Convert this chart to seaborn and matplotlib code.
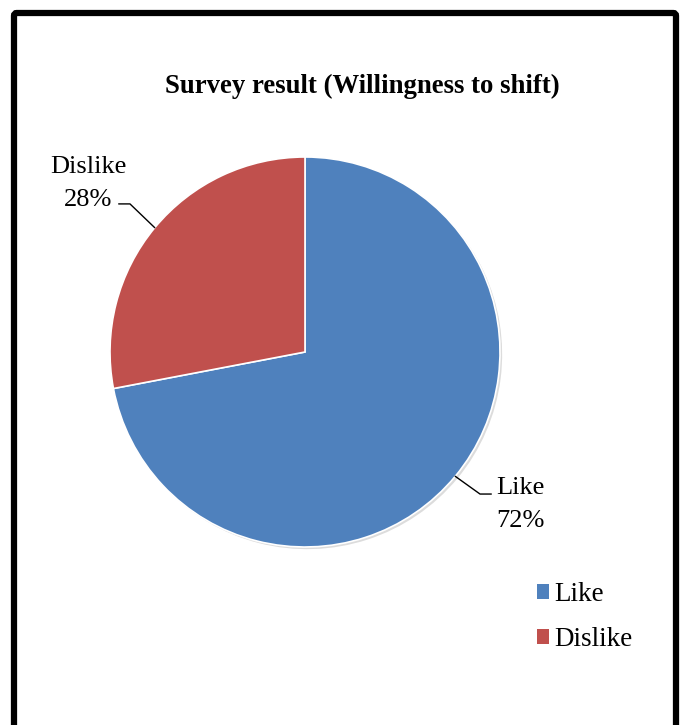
import matplotlib
matplotlib.use('Agg')
import matplotlib.pyplot as plt
from matplotlib.patches import Patch, FancyBboxPatch
import seaborn as sns
import numpy as np

sns.set_theme(style='white')
plt.rcParams['font.family'] = ['Liberation Serif', 'DejaVu Serif']
plt.rcParams['text.color'] = 'black'

# data
categories = ['Like', 'Dislike']
shares = [72, 28]
colors = sns.color_palette(['#4F81BD', '#C0504D'])

W, H = 683, 725
fig = plt.figure(figsize=(W / 100, H / 100), dpi=100)
fig.patch.set_facecolor('white')

# black frame around the chart (open at the bottom)
frame = FancyBboxPatch((14 / W, -0.05), (676 - 14) / W, (725 - 13) / H + 0.05,
                       boxstyle='round,pad=0,rounding_size=0.004',
                       transform=fig.transFigure, facecolor='none',
                       edgecolor='black', linewidth=4.5, zorder=10)
fig.patches.append(frame)

# pie axes: centre (305, 352) px, radius 195 px
cx, cy, r = 305, 352, 195
ax = fig.add_axes([(cx - r) / W, (H - cy - r) / H, 2 * r / W, 2 * r / H])
wedges, _ = ax.pie(shares, colors=colors, startangle=90, counterclock=False,
                   wedgeprops=dict(edgecolor='white', linewidth=1.2),
                   shadow=dict(ox=0.008, oy=-0.008, facecolor='0.55',
                               edgecolor='none', alpha=0.3))
ax.set_xlim(-1, 1)
ax.set_ylim(-1, 1)
ax.set_aspect('equal')
ax.axis('off')

fig.text(362 / W, 1 - 86 / H, 'Survey result (Willingness to shift)',
         ha='center', va='center', fontsize=19.3, fontweight='bold')

# data labels with leader lines
for w, cat, val in zip(wedges, categories, shares):
    ang = np.deg2rad((w.theta1 + w.theta2) / 2)
    ex, ey = np.cos(ang), np.sin(ang)
    side = np.sign(ex)
    elbow = (ex + side * 0.127, ey + (0.122 if ey > 0 else -0.091))
    end = (elbow[0] + side * 0.058, elbow[1])
    ax.plot([ex, elbow[0], end[0]], [ey, elbow[1], end[1]], color='black',
            linewidth=1.0, clip_on=False)
    if side < 0:
        ax.text(end[0] - 0.155, end[1] + 0.105, f'{cat}\n{val}%', ha='center',
                va='center', fontsize=19, linespacing=1.62)
    else:
        ax.text(end[0] + 0.026, end[1] - 0.055, f'{cat}\n{val}%', ha='left',
                va='center', fontsize=19, multialignment='center', linespacing=1.62)

handles = [Patch(facecolor=c, edgecolor='none', label=l) for c, l in zip(colors, categories)]
fig.legend(handles=handles, loc='upper left', bbox_to_anchor=(537 / W, 1 - 582 / H),
           frameon=False, fontsize=19.5, handlelength=0.45, handleheight=0.45,
           handletextpad=0.18, labelspacing=0.75, borderaxespad=0, borderpad=0)

plt.savefig('out.png', dpi=100, facecolor='white')
plt.close()
